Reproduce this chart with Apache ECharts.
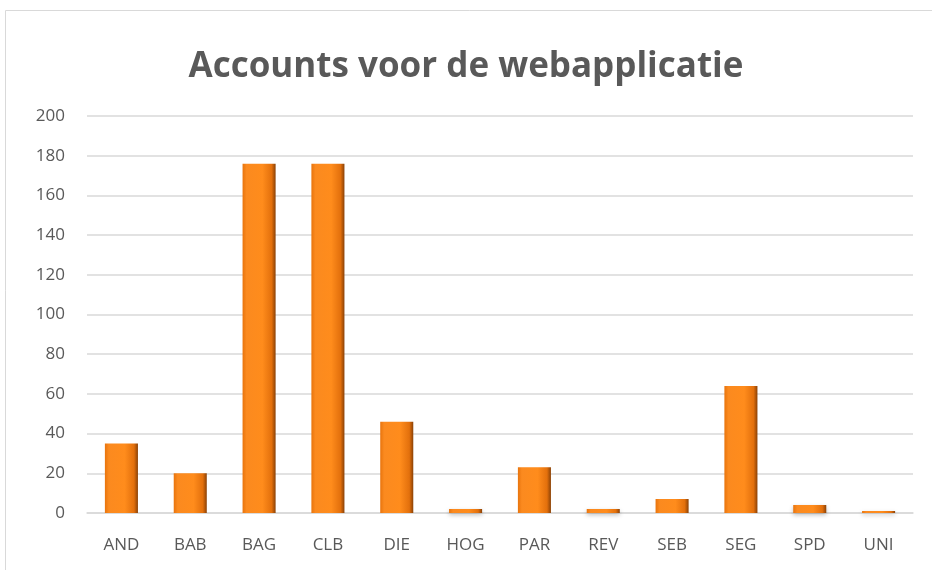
<!DOCTYPE html>
<html>
<head>
	<title>Accounts</title>
	<script src="https://cdn.jsdelivr.net/npm/echarts@6/dist/echarts.min.js"></script>
</head>
<body style="margin:0">
	<div id="main" style="width:932px;height:570px"></div>
	<script type="text/javascript">
var categories = ['AND', 'BAB', 'BAG', 'CLB', 'DIE', 'HOG', 'PAR', 'REV', 'SEB', 'SEG', 'SPD', 'UNI'];
var accounts = [35, 20, 176, 176, 46, 2, 23, 2, 7, 64, 4, 1];
var yTicks = [0, 200, 20]; // min, max, interval

var myChart = echarts.init(document.getElementById('main'));

var barColor = new echarts.graphic.LinearGradient(0, 0, 1, 0, [
    { offset: 0, color: '#e8740d' },
    { offset: 0.12, color: '#fb8a1f' },
    { offset: 0.6, color: '#ff8c1c' },
    { offset: 0.88, color: '#e3700c' },
    { offset: 1, color: '#8a4106' }
]);

var option = {
    textStyle: { fontFamily: 'Open Sans' },
    title: {
        text: 'Accounts voor de webapplicatie',
        left: 'center',
        top: 30,
        textStyle: { fontSize: 35, fontWeight: 'bold', color: '#595959', fontFamily: 'Open Sans' }
    },
    graphic: [{
        type: 'rect',
        shape: { x: 5.5, y: 10.5, width: 940, height: 580 },
        style: { fill: 'none', stroke: '#d9d9d9', lineWidth: 1 },
        silent: true
    }],
    grid: { left: 87, right: 19, top: 116, bottom: 57 },
    xAxis: {
        type: 'category',
        data: categories,
        axisLine: { lineStyle: { color: '#d9d9d9', width: 1.5 } },
        axisTick: { show: false },
        axisLabel: { color: '#595959', fontSize: 17, margin: 18 }
    },
    yAxis: {
        type: 'value',
        min: yTicks[0],
        max: yTicks[1],
        interval: yTicks[2],
        axisLine: { show: false },
        axisTick: { show: false },
        axisLabel: { color: '#595959', fontSize: 17, margin: 22 },
        splitLine: { lineStyle: { color: '#d9d9d9', width: 1.5 } }
    },
    series: [{
        name: 'Accounts',
        type: 'bar',
        data: accounts,
        barWidth: '48%',
        itemStyle: {
            color: barColor,
            shadowColor: 'rgba(0,0,0,0.25)',
            shadowBlur: 4,
            shadowOffsetY: 2
        }
    }]
};

myChart.setOption(option);
	</script>
</body>
</html>
